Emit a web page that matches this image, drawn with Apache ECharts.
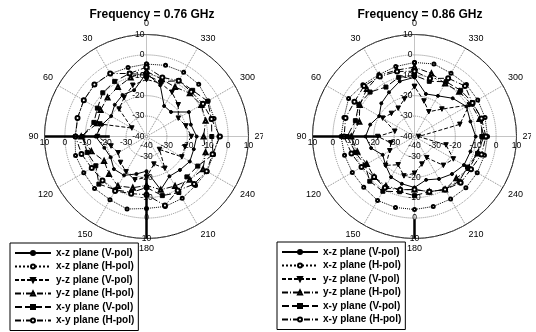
<!DOCTYPE html>
<html><head><meta charset="utf-8">
<script src="https://cdn.jsdelivr.net/npm/echarts@6/dist/echarts.min.js"></script>
<style>
html,body{margin:0;padding:0;background:#fff;width:536px;height:332px;overflow:hidden;}
#c1{position:absolute;left:0;top:0;width:263px;height:332px;}
#c2{position:absolute;left:268px;top:0;width:263px;height:332px;}
</style></head><body>
<div id="c1"></div><div id="c2"></div>
<script>
// ---------- data ----------
const angles = [0,15,30,45,60,75,90,105,120,135,150,165,180,195,210,225,240,255,270,285,300,315,330,345];
const angleTickLabels = ['0','30','60','90','120','150','180','210','240','270','300','330'];
const radiusTickLabels = ['-40','-30','-20','-10','0','10'];
const seriesNames = ['x-z plane (V-pol)','x-z plane (H-pol)','y-z plane (V-pol)','y-z plane (H-pol)','x-y plane (V-pol)','x-y plane (H-pol)'];
const titles = ['Frequency = 0.76 GHz','Frequency = 0.86 GHz'];

// 0.76 GHz (dB)
const f076_xzV = [-9,-16.5,-16.5,-18,-20,-17.5,-15,-18.6,-19.7,-17.4,-18,-21,-23,-13,-17.5,-16.8,-15.5,-16,-15.4,-17.5,-16,-23,-22.7,-14];
const f076_xzH = [-4.5,-5,-4.5,-4,-4.5,-5,-5,-4,-4.5,-4,-4.2,-3.2,-4.7,-4.5,-5,-6,-5.7,-6,-4.5,-5.7,-5.1,-3.8,-3.6,-3.9];
const f076_yzV = [-12,-14,-18,-21,-31.7,-16.3,-16,-22,-24,-22,-20,-18,-20,-26,-22,-31,-20,-20.5,-18,-20,-22,-18,-15,-13];
const f076_yzH = [-8,-10,-12,-13,-14,-15,-8,-12,-16,-14,-12,-14,-16,-13,-12,-10,-8,-10,-12,-10,-9,-10,-12,-11];
const f076_xyV = [-10,-8,-8.8,-9.7,-12.2,-13.3,-8.5,-9.9,-11.3,-7,-9.8,-11.6,-15,-10,-8.3,-12,-11,-6.2,-8,-7,-5.4,-8,-8.4,-12.2];
const f076_xyH = [-6,-8,-4.4,-3.9,-4.5,-5,-5.2,-7,-9,-9.5,-9.2,-11,-11.5,-5,-9.4,-7,-6,-6.5,-4,-7,-8,-9,-8.4,-10];
const f076_ref = [[9.8,90],[-22,90],['-','-'],[-23,180],[12.7,180]];

// 0.86 GHz (dB)
const f086_xzV = [-11,-12,-15,-17,-20,-17.5,-16,-18,-22,-20,-17,-16,-15,-18,-16,-14,-12,-11.6,-10,-11.6,-10.6,-13.5,-17,-18.4];
const f086_xzH = [-3.7,-4.5,-5,-4.2,-2.7,-4.2,-4,-4.5,-4.8,-4.8,-3.8,-4,-4.2,-4.5,-4.6,-4.4,-4.5,-4.5,-4.2,-4.2,-4.2,-4,-4.2,-3.2];
const f086_yzV = [-15.5,-21,-24,-24,-22,-30,-22,-28,-26,-20,-24,-20,-22,-26,-28,-20,-18,-24,-38,-17,-9,-21,-26,-22];
const f086_yzH = [-6,-6.3,-5.3,-7,-9,-12,-9,-11,-13,-12,-12,-13,-14,-12,-10,-11,-9,-8,-6,-7,-8,-9,-10,-8];
const f086_xyV = [-10,-10,-12,-9.2,-8.5,-10,-7,-10,-12,-9,-9,-12,-11,-12,-10,-9,-10,-8,-7,-6,-7,-8,-9,-12];
const f086_xyH = [-8,-7,-6,-5,-6,-5,-5.5,-8,-10,-12,-11,-13,-14,-12,-10,-8,-8,-6,-5,-6,-7.2,-5,-7,-10.6];
const f086_ref = [[9.8,90],[-23.6,90],['-','-'],[0.7,180],[13,180]];

// ---------- styles ----------
const FONT = 'Liberation Sans, Arial, sans-serif';
const styles = [
  {symbol:'circle', size:3, line:'solid'},
  {symbol:'emptyCircle', size:3, line:'dotted'},
  {symbol:'triangle', size:4.5, rotate:180, line:[4,2]},
  {symbol:'emptyTriangle', size:4, line:[6,2,1,2]},
  {symbol:'rect', size:4, line:[7,3]},
  {symbol:'emptyCircle', size:4, line:[6,2,1,2]}
];

function loop(vals){
  const d = angles.map((a,i)=>[vals[i], a]);
  d.push([vals[0], 360]);
  return d;
}

function makeOption(title, sets, ref, legendLeft, legendTop){
  const center = [146.5, 136.5], radius = 102;
  const starts = [90,180,270,0];
  const polar = starts.map(()=>({center:center, radius:radius}));
  const angleAxis = starts.map((s,i)=>i===0 ? {
    polarIndex:0, type:'value', min:0, max:360, interval:30, startAngle:90, clockwise:false,
    axisLine:{lineStyle:{color:'#000', width:1}},
    axisTick:{show:false},
    axisLabel:{color:'#000', fontSize:9, fontFamily:FONT, margin:6,
      formatter:(v)=>{const k=Math.round(v/30); return k<12 ? angleTickLabels[k] : '';}},
    splitLine:{show:true, lineStyle:{color:'#888', type:'dotted', width:1}}
  } : {
    polarIndex:i, type:'value', min:0, max:360, startAngle:s, clockwise:false, show:false
  });
  const labelExtra = [
    {margin:2},
    {margin:2},
    {margin:0, align:'center'},
    {margin:-5, verticalAlign:'top'}
  ];
  const radiusAxis = starts.map((s,i)=>({
    polarIndex:i, type:'value', min:-40, max:10, interval:10,
    axisLine:{show:false}, axisTick:{show:false},
    axisLabel:Object.assign({color:'#000', fontSize:8.5, fontFamily:FONT,
      formatter:(v)=>{const k=Math.round((v+40)/10); if(k===0 && i!==0 && i!==3) return ''; return radiusTickLabels[k];}}, labelExtra[i]),
    splitLine:{show:i===0, lineStyle:{color:'#888', type:'dotted', width:1}},
    z:1
  }));
  const series = sets.map((vals,k)=>({
    name:seriesNames[k], type:'line', coordinateSystem:'polar', polarIndex:0,
    data:loop(vals), symbol:styles[k].symbol, symbolSize:styles[k].size,
    symbolRotate:styles[k].rotate||0, showSymbol:true,
    lineStyle:{color:'#000', width:1, type:styles[k].line},
    itemStyle:{color:'#000', borderColor:'#000', borderWidth:1},
    animation:false, z:3
  }));
  series.push({
    name:'ref', type:'line', coordinateSystem:'polar', polarIndex:0, data:ref,
    symbol:'none', clip:false, connectNulls:false,
    lineStyle:{color:'#000', width:2.5}, animation:false, z:4
  });
  return {
    animation:false,
    backgroundColor:'#fff',
    title:{text:title, left:147, top:4, textAlign:'center',
      textStyle:{fontSize:12, fontWeight:'bold', fontFamily:FONT, color:'#000'}},
    polar:polar, angleAxis:angleAxis, radiusAxis:radiusAxis,
    legend:{data:seriesNames, orient:'vertical', left:legendLeft, top:legendTop,
      width:127, height:90,
      itemWidth:36, itemHeight:5, itemGap:1.5, padding:[4,4,4,4],
      borderColor:'#000', borderWidth:1, backgroundColor:'#fff',
      textStyle:{fontSize:10, fontWeight:'bold', fontFamily:FONT, color:'#000', lineHeight:12},
      selectedMode:false},
    series:series
  };
}

const c1 = echarts.init(document.getElementById('c1'), null, {renderer:'canvas'});
c1.setOption(makeOption(titles[0], [f076_xzV,f076_xzH,f076_yzV,f076_yzH,f076_xyV,f076_xyH], f076_ref, 10, 243));
const c2 = echarts.init(document.getElementById('c2'), null, {renderer:'canvas'});
c2.setOption(makeOption(titles[1], [f086_xzV,f086_xzH,f086_yzV,f086_yzH,f086_xyV,f086_xyH], f086_ref, 9, 242));
</script>
</body></html>
